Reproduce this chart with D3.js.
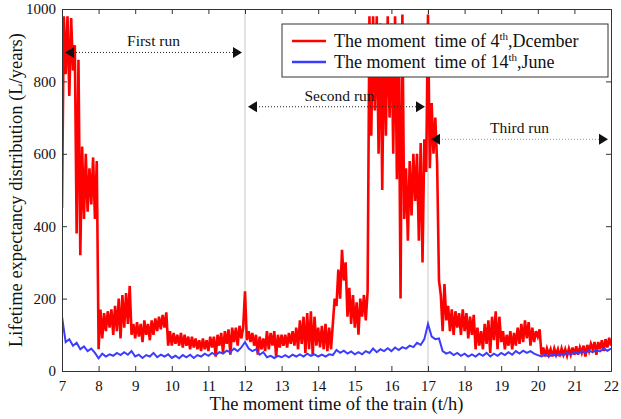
<!DOCTYPE html>
<html>
<head>
<meta charset="utf-8">
<script src="https://cdn.jsdelivr.net/npm/d3@7"></script>
<style>
  body { margin: 0; background: #fff; }
  text { font-family: "Liberation Serif", "Times New Roman", serif; fill: #111; }
</style>
</head>
<body>
<div id="chart"></div>
<script>
// Data
const xTicks = [7, 8, 9, 10, 11, 12, 13, 14, 15, 16, 17, 18, 19, 20, 21, 22];
const yTicks = [0, 200, 400, 600, 800, 1000];
const runBounds = [12, 17];

// 4th December, sampled every 0.05 h from 7.00 (alternating peaks and troughs)
const redStart = 7, redStep = 0.05;
const redValues = [
  450, 980, 820, 980, 760, 975, 830, 900, 380, 860,
  320, 620, 420, 600, 440, 560, 460, 590, 420, 580,
  60, 170, 90, 160, 110, 165, 120, 170, 100, 180,
  110, 200, 90, 210, 120, 215, 130, 235, 100, 130,
  90, 135, 95, 130, 80, 140, 100, 130, 85, 140,
  100, 145, 110, 150, 115, 155, 120, 162, 70, 110,
  70, 105, 75, 100, 70, 105, 65, 100, 70, 95,
  60, 95, 65, 90, 60, 85, 55, 90, 60, 85,
  55, 95, 65, 95, 40, 100, 70, 105, 50, 110,
  75, 115, 45, 120, 80, 120, 70, 125, 90, 120,
  220, 85, 110, 80, 105, 70, 100, 45, 95, 60,
  90, 55, 110, 60, 105, 70, 110, 40, 100, 65,
  100, 70, 100, 65, 105, 75, 110, 70, 120, 60,
  140, 75, 150, 50, 160, 60, 165, 45, 150, 70,
  120, 65, 125, 60, 130, 55, 120, 60, 130, 200,
  180, 280, 200, 335, 250, 300, 150, 230, 130, 210,
  120, 190, 100, 200, 150, 210, 140, 220, 980, 650,
  980, 720, 980, 600, 960, 500, 950, 650, 980, 700,
  960, 600, 980, 530, 900, 200, 985, 420, 560, 360,
  580, 430, 600, 470, 600, 360, 630, 300, 640, 550,
  985, 560, 740, 600, 700, 570, 250, 210, 110, 240,
  140, 180, 110, 170, 100, 165, 120, 160, 100, 170,
  110, 160, 90, 150, 100, 155, 60, 120, 70, 110,
  60, 130, 75, 140, 50, 150, 85, 165, 60, 150,
  80, 110, 60, 100, 70, 110, 60, 105, 70, 120,
  75, 130, 80, 140, 90, 135, 70, 120, 80, 110,
  95, 115, 45, 65, 40, 62, 45, 60, 40, 62,
  45, 60, 40, 62, 45, 60, 42, 62, 45, 65,
  45, 68, 45, 65, 50, 70, 40, 72, 55, 75,
  60, 80, 45, 80, 60, 85, 55, 88, 65, 92,
  70
];

// 14th June, sampled every 0.1 h from 7.0
const blueStart = 7, blueStep = 0.1;
const blueValues = [
  150, 80, 88, 70, 78, 60, 68, 55, 62, 50,
  35, 48, 40, 46, 42, 50, 44, 52, 45, 55,
  40, 45, 36, 44, 40, 50, 38, 45, 40, 46,
  36, 42, 35, 44, 38, 45, 36, 44, 40, 48,
  42, 50, 44, 52, 48, 56, 52, 62, 55, 65,
  80, 62, 55, 60, 45, 52, 38, 42, 36, 42,
  38, 44, 38, 45, 40, 46, 40, 48, 42, 46,
  40, 45, 40, 46, 44, 58, 50, 56, 48, 54,
  46, 52, 46, 55, 50, 62, 52, 60, 55, 63,
  55, 65, 58, 66, 62, 70, 66, 78, 72, 88,
  130, 95, 88, 90, 55, 48, 52, 44, 50, 42,
  48, 40, 46, 40, 48, 42, 50, 40, 48, 42,
  50, 44, 52, 45, 55, 48, 56, 50, 55, 48,
  44, 40, 45, 40, 46, 42, 48, 44, 50, 45,
  52, 48, 55, 50, 56, 52, 58, 54, 62, 56,
  62
];

const legendLabels = [
  { pre: "The moment  time of 4", sup: "th", post: ",Dcember", color: "#ff0000" },
  { pre: "The moment  time of 14", sup: "th", post: ",June", color: "#3c3cff" }
];

const runLabels = [
  { text: "First run", from: 7, to: 12, y: 880, dx: 0, color: "#222" },
  { text: "Second run", from: 12, to: 17, y: 730, dx: 3, color: "#222" },
  { text: "Third run", from: 17, to: 22, y: 640, dx: 0, color: "#999" }
];

// Layout
const W = 621, H = 419;
const margin = { top: 9, right: 10, bottom: 48, left: 62 };
const width = W - margin.left - margin.right;
const height = H - margin.top - margin.bottom;

const svg = d3.select("#chart").append("svg")
  .attr("width", W)
  .attr("height", H);

const defs = svg.append("defs");
defs.append("clipPath").attr("id", "plot-clip")
  .append("rect").attr("width", width).attr("height", height);

const g = svg.append("g")
  .attr("transform", `translate(${margin.left},${margin.top})`);

const x = d3.scaleLinear().domain([7, 22]).range([0, width]);
const y = d3.scaleLinear().domain([0, 1000]).range([height, 0]);

// Run separators
g.selectAll(".sep")
  .data(runBounds)
  .enter().append("line")
  .attr("x1", d => x(d)).attr("x2", d => x(d))
  .attr("y1", 0).attr("y2", height)
  .attr("stroke", "#c8c8c8")
  .attr("stroke-width", 1);

// Series
const redData = redValues.map((v, i) => ({ t: redStart + i * redStep, v: v }));
const blueData = blueValues.map((v, i) => ({ t: blueStart + i * blueStep, v: v }));

const line = d3.line()
  .x(d => x(d.t))
  .y(d => y(d.v));

const plot = g.append("g").attr("clip-path", "url(#plot-clip)");

plot.append("path")
  .datum(redData)
  .attr("d", line)
  .attr("fill", "none")
  .attr("stroke", "#ff0000")
  .attr("stroke-width", 2.6)
  .attr("stroke-linejoin", "miter");

plot.append("path")
  .datum(blueData)
  .attr("d", line)
  .attr("fill", "none")
  .attr("stroke", "#3c3cff")
  .attr("stroke-width", 2);

// Axes (MATLAB style: ticks inside, box on)
const frameColor = "#333";
const xAxis = g.append("g")
  .attr("transform", `translate(0,${height})`)
  .call(d3.axisBottom(x).tickValues(xTicks).tickSize(-5).tickPadding(9).tickFormat(d3.format("d")));
const xTop = g.append("g")
  .call(d3.axisTop(x).tickValues(xTicks).tickSize(-5).tickFormat(""));
const yAxis = g.append("g")
  .call(d3.axisLeft(y).tickValues(yTicks).tickSize(-5).tickPadding(6).tickFormat(d3.format("d")));
const yRight = g.append("g")
  .attr("transform", `translate(${width},0)`)
  .call(d3.axisRight(y).tickValues(yTicks).tickSize(-5).tickFormat(""));

[xAxis, xTop, yAxis, yRight].forEach(a => {
  a.select(".domain").attr("stroke", frameColor);
  a.selectAll(".tick line").attr("stroke", frameColor);
  a.selectAll(".tick text")
    .style("font-family", "'Liberation Serif', serif")
    .style("font-size", "15px")
    .attr("fill", "#111");
});

// Axis titles
svg.append("text")
  .attr("x", margin.left + width / 2)
  .attr("y", 410)
  .attr("text-anchor", "middle")
  .style("font-size", "18.5px")
  .text("The moment time of the train (t/h)");

svg.append("text")
  .attr("transform", `translate(22,${margin.top + height / 2}) rotate(-90)`)
  .attr("text-anchor", "middle")
  .style("font-size", "18.5px")
  .text("Lifetime expectancy distribution (L/years)");

// Run annotations
function arrowHead(sel, tipX, tipY, dir, color) {
  const s = 9, h = 5.5;
  sel.append("path")
    .attr("d", `M${tipX},${tipY} L${tipX - dir * s},${tipY - h} L${tipX - dir * s},${tipY + h} Z`)
    .attr("fill", color);
}

runLabels.forEach(r => {
  const x0 = x(r.from) + 3, x1 = x(r.to) - 3, yy = y(r.y);
  const ann = g.append("g");
  ann.append("line")
    .attr("x1", x0 + 8).attr("x2", x1 - 8)
    .attr("y1", yy).attr("y2", yy)
    .attr("stroke", r.color)
    .attr("stroke-width", 1)
    .attr("stroke-dasharray", "1,2");
  arrowHead(ann, x0, yy, -1, "#111");
  arrowHead(ann, x1, yy, 1, "#111");
  ann.append("text")
    .attr("x", (x0 + x1) / 2 + r.dx)
    .attr("y", yy - 6)
    .attr("text-anchor", "middle")
    .style("font-size", "15.5px")
    .text(r.text);
});

// Legend
const legend = svg.append("g").attr("transform", "translate(282,24)");
legend.append("rect")
  .attr("width", 326).attr("height", 53)
  .attr("fill", "#fff")
  .attr("stroke", "#333")
  .attr("stroke-width", 1);

legendLabels.forEach((d, i) => {
  const ly = 17 + i * 21;
  legend.append("line")
    .attr("x1", 10).attr("x2", 44)
    .attr("y1", ly).attr("y2", ly)
    .attr("stroke", d.color)
    .attr("stroke-width", 2.5);
  const t = legend.append("text")
    .attr("x", 52)
    .attr("y", ly + 6)
    .style("font-size", "18px")
    .style("white-space", "pre");
  t.append("tspan").text(d.pre);
  t.append("tspan").attr("dy", -7).style("font-size", "11px").text(d.sup);
  t.append("tspan").attr("dy", 7).text(d.post);
});
</script>
</body>
</html>
